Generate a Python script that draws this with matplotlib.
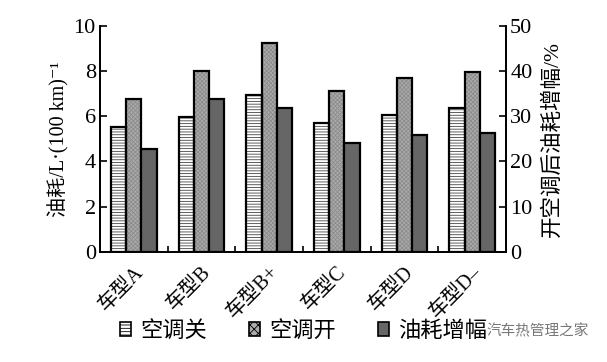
import matplotlib
matplotlib.use("Agg")
import matplotlib.pyplot as plt
import numpy as np
from matplotlib.patches import Patch

plt.rcParams['font.family'] = ['Liberation Serif', 'Noto Sans CJK SC', 'DejaVu Sans']
plt.rcParams['hatch.linewidth'] = 0.6

categories = ['车型A', '车型B', '车型B+', '车型C', '车型D', '车型D–']
ac_off = [5.51, 5.98, 6.94, 5.70, 6.06, 6.37]
ac_on = [6.75, 8.00, 9.23, 7.12, 7.70, 7.97]
increase_pct = [22.8, 33.8, 31.8, 24.1, 25.9, 26.4]
series_names = ['空调关', '空调开', '油耗增幅']

fig = plt.figure(figsize=(6.07, 3.62), dpi=100)
ax = fig.add_axes([0.1647, 0.3047, 0.8336 - 0.1647, 0.928 - 0.3047])
ax2 = ax.twinx()

x = np.arange(len(categories))
w = 0.225
lw = 1.6

# 空调关: white with horizontal lines
ax.bar(x - w, ac_off, w, facecolor='white', edgecolor='#444444', hatch='------', linewidth=0, zorder=2)
ax.bar(x - w, ac_off, w, facecolor='none', edgecolor='black', linewidth=lw, zorder=3)
# 空调开: stippled gray
ax.bar(x, ac_on, w, facecolor='#ababab', edgecolor='#8c8c8c', hatch='xxxxxxxx', linewidth=0, zorder=2)
ax.bar(x, ac_on, w, facecolor='none', edgecolor='black', linewidth=lw, zorder=3)
# 油耗增幅 on right axis
ax2.bar(x + w, increase_pct, w, facecolor='#666666', edgecolor='black', linewidth=lw, zorder=3)

ax.set_xlim(-0.5, len(categories) - 0.5)
ax.set_ylim(0, 10)
ax2.set_ylim(0, 50)
ax.set_yticks([0, 2, 4, 6, 8, 10])
ax2.set_yticks([0, 10, 20, 30, 40, 50])

ax.set_xticks(x)
ax.set_xticklabels(categories, rotation=45, ha='right', rotation_mode='anchor', fontsize=14.5)
ax.tick_params(axis='x', which='major', length=0, pad=8)
ax.set_xticks(np.arange(0.5, len(categories) - 0.5, 1.0), minor=True)
ax.tick_params(axis='x', which='minor', direction='in', length=4, width=1.2)

ax.tick_params(axis='y', direction='in', length=5, width=1.2, labelsize=16, pad=3)
ax2.tick_params(axis='y', direction='in', length=5, width=1.2, labelsize=16, pad=3)

for a in (ax, ax2):
    a.spines['top'].set_visible(False)
    for s in ('left', 'right', 'bottom'):
        a.spines[s].set_linewidth(1.3)

ax.set_ylabel('油耗/L·(100 km)⁻¹', fontsize=14.5, labelpad=3)
ax2.set_ylabel('开空调后油耗增幅/%', fontsize=15.5, rotation=90, labelpad=7)

handles = [
    Patch(facecolor='white', edgecolor='black', hatch='-----', linewidth=1.2),
    Patch(facecolor='#ababab', edgecolor='black', hatch='xxxx', linewidth=1.2),
    Patch(facecolor='#666666', edgecolor='black', linewidth=1.2),
]
fig.legend(handles, series_names, loc='center', bbox_to_anchor=(0.5, 0.085), ncol=3,
           frameon=False, fontsize=16, handlelength=0.5, handleheight=0.6,
           handletextpad=0.4, columnspacing=1.9)

fig.text(0.97, 0.085, '汽车热管理之家', ha='right', va='center', fontsize=10.5,
         color='#777777', family=['Noto Sans CJK SC'])

fig.savefig('out.png', dpi=100)
